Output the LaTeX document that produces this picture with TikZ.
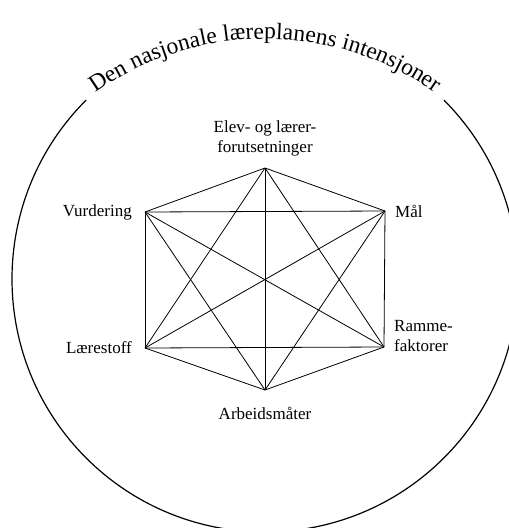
\documentclass[tikz,border=0pt]{standalone}
\usepackage{fontspec}
\setmainfont{Liberation Serif}
\usepackage{tikz}
\usetikzlibrary{positioning, decorations.text}
\newcommand{\arcfont}{\fontsize{23.5}{28}\selectfont}

\begin{document}
\begin{tikzpicture}[x=1pt, y=1pt, node distance=10pt, inner sep=2pt, font=\fontsize{17}{20}\selectfont]
    \useasboundingbox (0,0) rectangle (509,-528);
    \clip (0,0) rectangle (509,-528);

    % Centre of the circle and of the text arc
    \coordinate (mid) at (265,-279);
    \coordinate (textmid) at (265,-334);

    % Corners of the hexagon
    \coordinate (forut) at (265,-168);
    \coordinate (maal) at (385,-211);
    \coordinate (ramme) at (384,-347);
    \coordinate (arbeid) at (265,-390);
    \coordinate (stoff) at (145,-348);
    \coordinate (vurd) at (145,-212);

    % Labels
    \node[above=10pt of forut, align=center] (forutlabel) {Elev- og lærer-\\forutsetninger};
    \node[right=8pt of maal] (maallabel) {Mål};
    \node[anchor=south west, align=left] (rammelabel) at ([shift={(8,-7)}]ramme) {Ramme-\\faktorer};
    \node[below=15pt of arbeid] (arbeidlabel) {Arbeidsmåter};
    \node[left=11pt of stoff] (stofflabel) {Lærestoff};
    \node[left=11pt of vurd] (vurdlabel) {Vurdering};

    % Lines between all corners
    \foreach \i/\j in {forut/maal, forut/ramme, forut/arbeid, forut/stoff, forut/vurd,
                       maal/ramme, maal/arbeid, maal/stoff, maal/vurd,
                       ramme/arbeid, ramme/stoff, ramme/vurd,
                       arbeid/stoff, arbeid/vurd,
                       stoff/vurd}
        \draw[line width=0.8pt, line join=round] (\i) -- (\j);

    % Circle with the text on top
    \draw[line width=1.2pt] ([shift={(45:253)}]mid) arc[start angle=45, end angle=-225, radius=253];
    \path[decorate, decoration={text along path, text align=center,
        text={|\arcfont|Den nasjonale læreplanens intensjoner}}]
        ([shift={(132:295)}]textmid) arc[start angle=132, end angle=48, radius=295];

\end{tikzpicture}
\end{document}
